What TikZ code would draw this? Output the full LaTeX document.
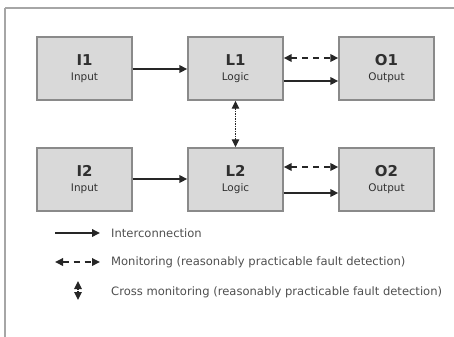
\documentclass[tikz,border=0pt]{standalone}
\usepackage{fontspec}
\setmainfont{DejaVu Sans}
\usetikzlibrary{arrows.meta}
\definecolor{boxfill}{HTML}{D9D9D9}
\definecolor{boxline}{HTML}{8A8A8A}
\definecolor{txt}{HTML}{303030}
\begin{document}
\begin{tikzpicture}[x=1bp,y=-1bp,
  blk/.style={draw=boxline,fill=boxfill,line width=1.4bp,minimum width=95bp,minimum height=63bp,inner sep=0pt,align=center,text=txt},
  conn/.style={line width=1.8bp,-{Triangle[length=8bp,width=7.5bp]},draw=black!85},
  mon/.style={line width=1.8bp,dash pattern=on 6bp off 5bp,{Triangle[length=8bp,width=7.5bp]}-{Triangle[length=8bp,width=7.5bp]},draw=black!85},
  cross/.style={line width=1.3bp,dash pattern=on 1.2bp off 1.3bp,{Triangle[length=8bp,width=7.5bp]}-{Triangle[length=8bp,width=7.5bp]},draw=black!85},
  lbl/.style={anchor=west,inner sep=0pt,text=txt!85,font=\fontsize{11.6}{13}\selectfont}]
\useasboundingbox (0,0) rectangle (454,336);
\draw[draw=black!35,line width=1.2bp] (5,8) -- (460,8);
\draw[draw=black!35,line width=1.2bp] (5,8) -- (5,340);
\newcommand{\bt}[2]{{\fontsize{15}{16}\selectfont\bfseries #1}\\[3bp]{\fontsize{10.5}{11}\selectfont #2}}
\node[blk] (I1) at (84.5,68.5) {\bt{I1}{Input}};
\node[blk] (L1) at (235.5,68.5) {\bt{L1}{Logic}};
\node[blk] (O1) at (386.5,68.5) {\bt{O1}{Output}};
\node[blk] (I2) at (84.5,179.5) {\bt{I2}{Input}};
\node[blk] (L2) at (235.5,179.5) {\bt{L2}{Logic}};
\node[blk] (O2) at (386.5,179.5) {\bt{O2}{Output}};
\draw[conn] (I1.east |- 0,69) -- (L1.west |- 0,69);
\draw[conn] (L1.east |- 0,81) -- (O1.west |- 0,81);
\draw[mon] (L1.east |- 0,58) -- (O1.west |- 0,58);
\draw[conn] (I2.east |- 0,179) -- (L2.west |- 0,179);
\draw[conn] (L2.east |- 0,193) -- (O2.west |- 0,193);
\draw[mon] (L2.east |- 0,167) -- (O2.west |- 0,167);
\draw[cross] (L1.south) -- (L2.north);
\coordinate (a1) at (55,233); \coordinate (a2) at (100,233);
\draw[conn] (a1) -- (a2);
\node[lbl] (t1) at (111,233) {Interconnection};
\coordinate (b1) at (55,262); \coordinate (b2) at (100,262);
\draw[mon] (b1) -- (b2);
\node[lbl] (t2) at (111,262) {Monitoring (reasonably practicable fault detection)};
\coordinate (c1) at (78,281); \coordinate (c2) at (78,300);
\draw[cross] (c1) -- (c2);
\node[lbl] (t3) at (111,292) {Cross monitoring (reasonably practicable fault detection)};
\end{tikzpicture}
\end{document}
